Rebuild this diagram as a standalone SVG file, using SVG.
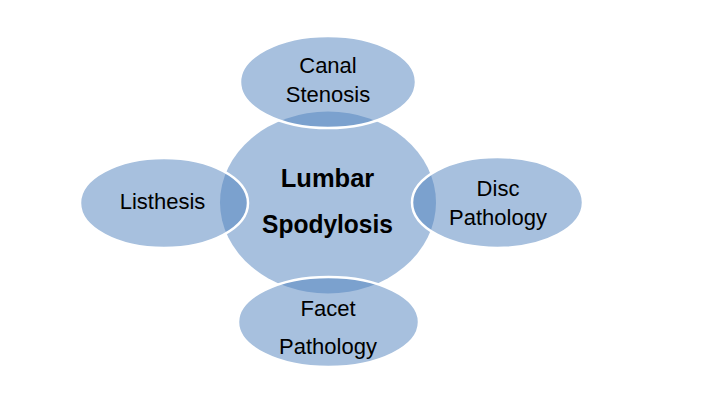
<svg xmlns="http://www.w3.org/2000/svg" width="704" height="417" viewBox="0 0 704 417">
<style>
.shape{fill:#4F81BD;fill-opacity:0.5}
.sat{stroke:#FFFFFF;stroke-width:2.5}
.t{font-family:"Liberation Sans",Arial,sans-serif;font-size:22px;fill:#000000;text-anchor:middle}
.b{font-family:"Liberation Sans",Arial,sans-serif;font-size:25.5px;font-weight:bold;fill:#000000;text-anchor:middle}
</style>
<rect width="704" height="417" fill="#FFFFFF"/>
<g id="center">
<ellipse class="shape" cx="328" cy="202.5" rx="108" ry="91"/>
<text class="b" x="327.5" y="186.7">Lumbar</text>
<text class="b" x="327.5" y="233.3" textLength="131" lengthAdjust="spacingAndGlyphs">Spodylosis</text>
</g>
<g id="canal-stenosis">
<ellipse class="shape sat" cx="328" cy="82" rx="88" ry="46"/>
<text class="t" x="328" y="73.3">Canal</text>
<text class="t" x="328" y="101.7">Stenosis</text>
</g>
<g id="listhesis">
<ellipse class="shape sat" cx="164" cy="203" rx="84" ry="45"/>
<text class="t" x="162.5" y="209.3">Listhesis</text>
</g>
<g id="disc-pathology">
<ellipse class="shape sat" cx="497.5" cy="202.5" rx="85.5" ry="45.5"/>
<text class="t" x="498" y="196">Disc</text>
<text class="t" x="498" y="225">Pathology</text>
</g>
<g id="facet-pathology">
<ellipse class="shape sat" cx="328.5" cy="322" rx="90.5" ry="45"/>
<text class="t" x="328" y="316">Facet</text>
<text class="t" x="328" y="354">Pathology</text>
</g>
<g id="connectors"></g>
</svg>
